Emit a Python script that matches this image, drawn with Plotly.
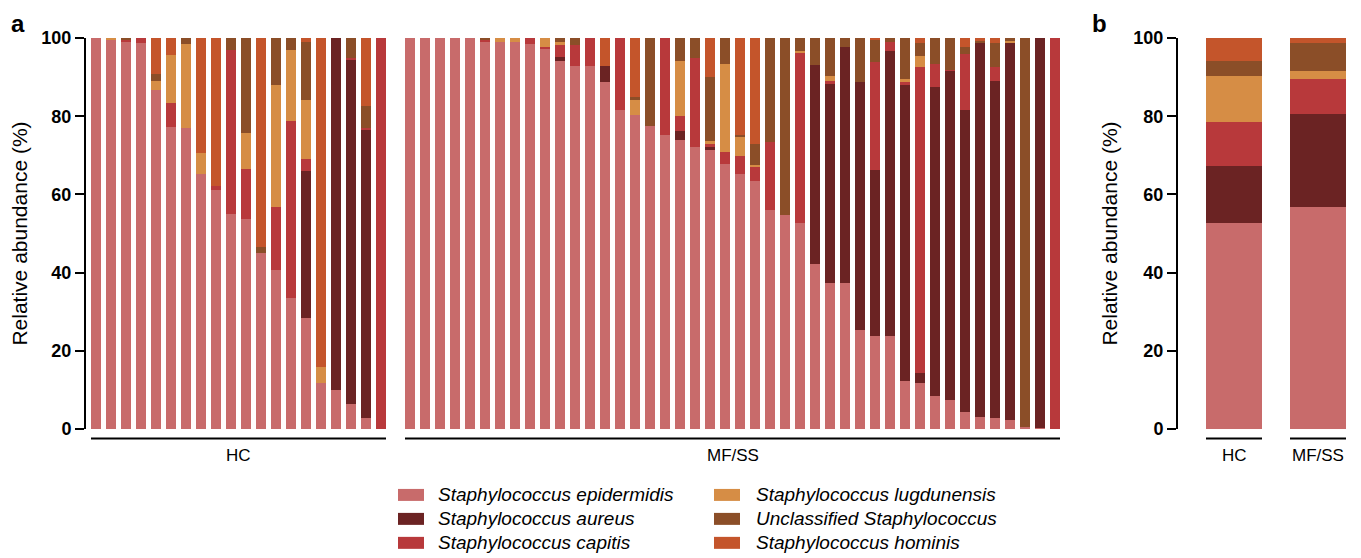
import plotly.graph_objects as go

# ---------------- data ----------------
species = ["Staphylococcus epidermidis", "Staphylococcus aureus", "Staphylococcus capitis",
           "Staphylococcus lugdunensis", "Unclassified Staphylococcus", "Staphylococcus hominis"]
colors = ["#C86B6B", "#6B2323", "#B8393B", "#D68D45", "#8B4E28", "#C4552B"]

groups = ["HC", "MF/SS"]

# panel a, HC samples (20)
hc_epidermidis = [100, 99.5, 99.0, 98.7, 86.8, 77.3, 77.0, 65.1, 61.2, 55.0,
                  53.7, 45.1, 40.7, 33.4, 28.5, 11.7, 10.0, 6.5, 2.7, 0]
hc_aureus      = [0, 0, 0, 0, 0, 0, 0, 0, 0, 0,
                  0, 0, 0, 0, 37.5, 0, 90.0, 87.8, 73.8, 0]
hc_capitis     = [0, 0, 0.5, 1.3, 0, 6.2, 0, 0, 0.9, 42.0,
                  12.7, 0, 16.2, 45.5, 3.0, 0, 0, 0.6, 0.5, 100]
hc_lugdunensis = [0, 0.5, 0, 0, 2.3, 12.2, 21.5, 5.6, 0, 0,
                  9.2, 0, 31.2, 18.1, 15.2, 4.2, 0, 0, 0, 0]
hc_unclass     = [0, 0, 0.5, 0, 1.7, 0, 1.5, 0, 0, 3.0,
                  24.4, 1.5, 11.9, 3.0, 14.9, 0, 0, 5.1, 5.7, 0]
hc_hominis     = [0, 0, 0, 0, 9.2, 4.3, 0, 29.3, 37.9, 0,
                  0, 53.4, 0, 0, 0.9, 84.1, 0, 0, 17.3, 0]

# panel a, MF/SS samples (44)
mf_epidermidis = [100, 100, 100, 100, 100, 99.1, 99.1, 98.9, 98.5, 97.4,
                  94.2, 92.9, 92.8, 88.7, 81.7, 80.4, 77.4, 75.1, 74.0, 72.1,
                  71.4, 67.9, 65.3, 63.4, 56.0, 54.7, 52.6, 42.1, 37.4, 37.4,
                  25.3, 23.9, 23.8, 12.4, 11.7, 8.5, 7.3, 4.3, 3.1, 2.8,
                  2.4, 0.4, 0.3, 0]
mf_aureus      = [0, 0, 0, 0, 0, 0, 0, 0, 0, 0,
                  0.9, 0, 0, 4.1, 0, 0, 0, 0, 2.1, 0,
                  0.9, 0, 0, 0, 0, 0, 0, 50.9, 50.9, 60.2,
                  63.4, 42.3, 72.8, 75.7, 2.6, 78.9, 84.3, 77.2, 95.8, 86.1,
                  96.5, 0, 99.7, 0]
mf_capitis     = [0, 0, 0, 0, 0, 0.4, 0, 0, 1.5, 0.4,
                  3.0, 5.4, 7.2, 0, 18.3, 0, 0, 24.9, 3.9, 22.8,
                  0.5, 3.0, 4.4, 3.7, 17.4, 0, 43.8, 0, 0.6, 0,
                  0, 27.7, 2.3, 0.7, 78.2, 6.0, 0.3, 14.5, 0, 3.6,
                  0, 0, 0, 100]
mf_lugdunensis = [0, 0, 0, 0, 0, 0, 0.9, 1.1, 0, 2.2,
                  1.0, 0, 0, 0, 0, 3.8, 0, 0, 14.2, 0,
                  0.8, 22.5, 5.1, 0.3, 0, 0, 0.4, 0, 1.5, 0,
                  0, 0, 0, 0.7, 3.0, 0, 0, 0, 0, 0,
                  0.4, 0, 0, 0]
mf_unclass     = [0, 0, 0, 0, 0, 0.5, 0, 0, 0, 0,
                  0.9, 1.7, 0, 0, 0, 0.6, 22.6, 0, 5.8, 5.1,
                  16.4, 6.6, 0.4, 5.6, 26.6, 45.3, 3.2, 7.0, 9.6, 2.4,
                  11.3, 5.6, 1.1, 10.5, 3.2, 6.6, 8.1, 1.7, 0.4, 6.1,
                  0.7, 99.6, 0, 0]
mf_hominis     = [0, 0, 0, 0, 0, 0, 0, 0, 0, 0,
                  0, 0, 0, 7.2, 0, 15.2, 0, 0, 0, 0,
                  10.0, 0, 24.8, 27.0, 0, 0, 0, 0, 0, 0,
                  0, 0.5, 0, 0, 1.3, 0, 0, 2.3, 0.7, 1.4,
                  0, 0, 0, 0]

# panel b, group means (HC, MF/SS)
mean_epidermidis = [52.7, 56.9]
mean_aureus      = [14.5, 23.7]
mean_capitis     = [11.4, 9.0]
mean_lugdunensis = [11.8, 2.0]
mean_unclass     = [3.7, 7.2]
mean_hominis     = [5.9, 1.2]

hc_data = [hc_epidermidis, hc_aureus, hc_capitis, hc_lugdunensis, hc_unclass, hc_hominis]
mf_data = [mf_epidermidis, mf_aureus, mf_capitis, mf_lugdunensis, mf_unclass, mf_hominis]
mean_data = [mean_epidermidis, mean_aureus, mean_capitis, mean_lugdunensis, mean_unclass, mean_hominis]

# ---------------- figure ----------------
FONT = "Liberation Sans, Arial, sans-serif"
VIEW_W, VIEW_H = 1361, 558
OFF = 8                      # default page (body) margin in the browser
W, H = VIEW_W - OFF, VIEW_H - OFF
# plot-area edges in screen pixels
S_L, S_R, S_T, S_B = 86, 1360, 37.5, 429


def px_x(p):
    return (p - S_L) / (S_R - S_L)


def px_y(p):
    return (S_B - p) / (S_B - S_T)


fig = go.Figure()
hc_x = list(range(len(hc_epidermidis)))
mf_x = list(range(len(mf_epidermidis)))
b_x = list(range(len(groups)))

for i, name in enumerate(species):
    fig.add_trace(go.Bar(x=hc_x, y=hc_data[i], name=name, marker_color=colors[i],
                         marker_line_width=0, xaxis="x", yaxis="y", showlegend=False))
    fig.add_trace(go.Bar(x=mf_x, y=mf_data[i], name=name, marker_color=colors[i],
                         marker_line_width=0, xaxis="x2", yaxis="y2", showlegend=False))
    fig.add_trace(go.Bar(x=b_x, y=mean_data[i], name=name, marker_color=colors[i],
                         marker_line_width=0, xaxis="x3", yaxis="y3", showlegend=False))

bw = 2 / 3
yaxis_common = dict(range=[0, 100], dtick=20, showline=True, linecolor="black", linewidth=2,
                    ticks="outside", ticklen=9, tickwidth=2, tickcolor="black",
                    tickfont=dict(family=FONT, size=18, color="black", weight="bold"),
                    showgrid=False, zeroline=False,
                    title=dict(text="Relative abundance (%)", standoff=10,
                               font=dict(family=FONT, size=21, color="black")))

n_hc, n_mf = len(hc_x), len(mf_x)
fig.update_layout(
    width=W, height=H,
    margin=dict(l=S_L - OFF, r=VIEW_W - S_R, t=S_T - OFF, b=VIEW_H - S_B, autoexpand=False),
    paper_bgcolor="white", plot_bgcolor="white",
    barmode="stack", bargap=1 - bw, showlegend=False,
    font=dict(family=FONT, color="black"),
    xaxis=dict(domain=[0, px_x(388.5)], range=[-0.5 - 2.5 / 15, n_hc - 0.5], visible=False),
    xaxis2=dict(domain=[px_x(402.5), px_x(402.5 + 15 * n_mf)], range=[-0.5, n_mf - 0.5],
                visible=False),
    xaxis3=dict(domain=[px_x(1178), 1], range=[-0.5 - 14 / 84, len(b_x) - 0.5], visible=False),
    yaxis=dict(domain=[0, 1], anchor="x", **yaxis_common),
    yaxis2=dict(domain=[0, 1], anchor="x2", matches="y", visible=False),
    yaxis3=dict(domain=[0, 1], anchor="x3", **yaxis_common),
)

# group underlines and labels
y_line = px_y(438.5)
y_lab = px_y(456)
group_axes = [("x", 0, n_hc - 1, groups[0]), ("x2", 0, n_mf - 1, groups[1]),
              ("x3", 0, 0, groups[0]), ("x3", 1, 1, groups[1])]
for ax, a0, a1, lab in group_axes:
    fig.add_shape(type="line", xref=ax, yref="paper", x0=a0 - bw / 2, x1=a1 + bw / 2,
                  y0=y_line, y1=y_line, line=dict(color="black", width=2))
    fig.add_annotation(xref=ax, yref="paper", x=(a0 + a1) / 2, y=y_lab, text=lab,
                       showarrow=False, xanchor="center", yanchor="middle",
                       font=dict(family=FONT, size=17, color="black"))

# legend (two columns of three entries)
leg_cols = [(398, 436), (714, 754)]   # swatch left, text left (screen px)
leg_rows = [495, 519, 543]            # row centres (screen px)
for i, name in enumerate(species):
    sx, tx = leg_cols[i // 3]
    ry = leg_rows[i % 3]
    fig.add_shape(type="rect", xref="paper", yref="paper",
                  x0=px_x(sx), x1=px_x(sx + 26), y0=px_y(ry + 6), y1=px_y(ry - 6),
                  fillcolor=colors[i], line=dict(width=0))
    fig.add_annotation(xref="paper", yref="paper", x=px_x(tx), y=px_y(ry), text="<i>%s</i>" % name,
                       showarrow=False, xanchor="left", yanchor="middle",
                       font=dict(family=FONT, size=19, color="black"))

# panel letters
for lab, xp in [("a", 18), ("b", 1099)]:
    fig.add_annotation(xref="paper", yref="paper", x=px_x(xp), y=px_y(23), text="<b>%s</b>" % lab,
                       showarrow=False, xanchor="center", yanchor="middle",
                       font=dict(family=FONT, size=24, color="black"))

fig.write_html("out.html")
